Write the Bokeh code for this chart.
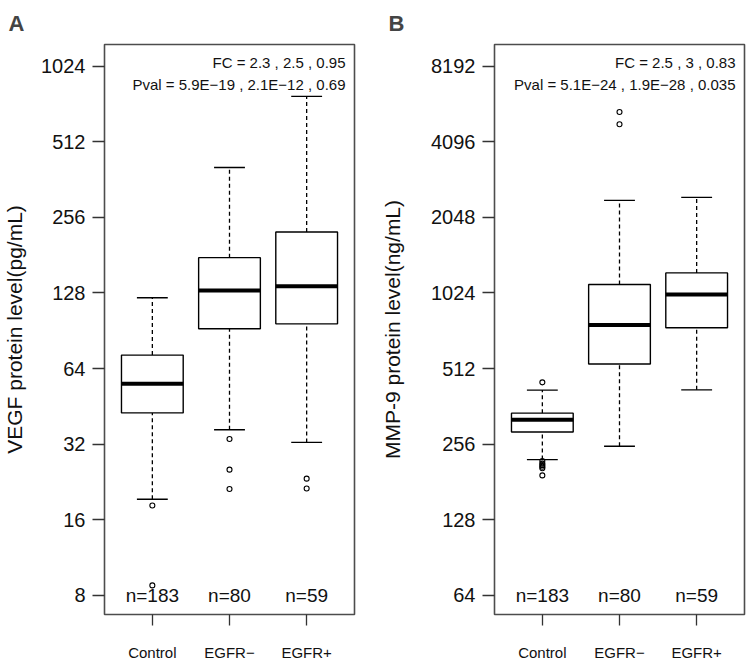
from bokeh.plotting import figure
from bokeh.models import Range1d, FixedTicker, Label, NumeralTickFormatter, ColumnDataSource
from bokeh.layouts import row
from bokeh.core.properties import value
from bokeh.embed import file_html
from bokeh.resources import INLINE

FONT = "Liberation Sans"

categories = ["Control", "EGFR\u2212", "EGFR+"]
counts = [183, 80, 59]

# Panel A: VEGF (pg/mL)
vegf_q1 = [42.6, 92.2, 96.4]
vegf_median = [55.6, 131, 136]
vegf_q3 = [72.4, 177, 224]
vegf_low = [19.3, 36.5, 32.5]
vegf_high = [122.5, 405, 777]
vegf_outliers = [[18.2, 8.75], [33.5, 25.3, 21.2], [23.3, 21.3]]
vegf_ticks = [8, 16, 32, 64, 128, 256, 512, 1024]
vegf_fc = "FC = 2.3 , 2.5 , 0.95"
vegf_pval = "Pval = 5.9E\u221219 , 2.1E\u221212 , 0.69"

# Panel B: MMP-9 (ng/mL)
mmp_q1 = [286, 534, 744]
mmp_median = [320, 764, 1010]
mmp_q3 = [340, 1107, 1231]
mmp_low = [222, 251, 421]
mmp_high = [420, 2394, 2461]
mmp_outliers = [[451, 219, 214, 211, 208, 205, 192], [5387, 4818], []]
mmp_ticks = [64, 128, 256, 512, 1024, 2048, 4096, 8192]
mmp_fc = "FC = 2.5 , 3 , 0.83"
mmp_pval = "Pval = 5.1E\u221224 , 1.9E\u221228 , 0.035"


def panel(letter, ylabel, q1, med, q3, low, high, outliers, ticks, fc, pval,
          yr, width, border_left, border_right, label_standoff, title_x):
    p = figure(width=width, height=663, y_axis_type="log",
               x_range=Range1d(0.38, 3.62), y_range=Range1d(*yr),
               output_backend="svg", toolbar_location=None,
               min_border_left=border_left, min_border_right=border_right,
               min_border_top=42, min_border_bottom=47)
    p.xgrid.visible = False
    p.ygrid.visible = False
    p.outline_line_color = "#4d4d4d"
    p.outline_line_width = 1.6
    p.background_fill_color = "white"

    xs = list(range(1, len(categories) + 1))
    src = ColumnDataSource(dict(
        x=xs, q1=q1, med=med, q3=q3, low=low, high=high,
        left=[x - 0.4 for x in xs], right=[x + 0.4 for x in xs],
        cl=[x - 0.2 for x in xs], cr=[x + 0.2 for x in xs],
    ))
    # whiskers
    p.segment(x0="x", y0="q3", x1="x", y1="high", source=src,
              line_color="black", line_width=1.3, line_dash="4 3")
    p.segment(x0="x", y0="low", x1="x", y1="q1", source=src,
              line_color="black", line_width=1.3, line_dash="4 3")
    # caps
    p.segment(x0="cl", y0="high", x1="cr", y1="high", source=src,
              line_color="black", line_width=1.4)
    p.segment(x0="cl", y0="low", x1="cr", y1="low", source=src,
              line_color="black", line_width=1.4)
    # boxes
    p.vbar(x="x", width=0.8, bottom="q1", top="q3", source=src,
           fill_color="white", line_color="black", line_width=1.4)
    # medians
    p.segment(x0="left", y0="med", x1="right", y1="med", source=src,
              line_color="black", line_width=4)
    # outliers
    ox, oy = [], []
    for x, vals in zip(xs, outliers):
        for v in vals:
            ox.append(x)
            oy.append(v)
    p.scatter(ox, oy, marker="circle", size=5, fill_color=None,
              line_color="black", line_width=1.1)
    # n labels at the lowest tick
    p.text(x=xs, y=[ticks[0]] * len(xs), text=[f"n={c}" for c in counts],
           text_align="center", text_baseline="middle",
           text_font=value(FONT), text_font_size="19px", text_color="#111111")
    # FC / Pval
    for txt, off in ((fc, -18), (pval, -40)):
        p.add_layout(Label(x=3.62, y=yr[1], x_offset=-9, y_offset=off, text=txt,
                           text_align="right", text_baseline="middle",
                           text_font=FONT, text_font_size="15px",
                           text_color="#111111"))

    # axes
    ya = p.yaxis[0]
    ya.ticker = FixedTicker(ticks=ticks, minor_ticks=[])
    ya.formatter = NumeralTickFormatter(format="0")
    ya.axis_line_color = None
    ya.major_tick_in = 0
    ya.major_tick_out = 12
    ya.major_tick_line_color = "#333333"
    ya.major_tick_line_width = 1.3
    ya.minor_tick_line_color = None
    ya.major_label_text_font = FONT
    ya.major_label_text_font_size = "20px"
    ya.major_label_text_color = "#111111"
    ya.major_label_standoff = 7
    ya.axis_label = ylabel
    ya.axis_label_text_font = FONT
    ya.axis_label_text_font_size = "21px"
    ya.axis_label_text_font_style = "normal"
    ya.axis_label_text_color = "#111111"
    ya.axis_label_standoff = label_standoff

    xa = p.xaxis[0]
    xa.ticker = FixedTicker(ticks=xs)
    xa.major_label_overrides = {x: c for x, c in zip(xs, categories)}
    xa.axis_line_color = None
    xa.major_tick_in = 0
    xa.major_tick_out = 11
    xa.major_tick_line_color = "#333333"
    xa.major_tick_line_width = 1.3
    xa.minor_tick_line_color = None
    xa.major_label_text_font = FONT
    xa.major_label_text_font_size = "15px"
    xa.major_label_text_color = "#111111"
    xa.major_label_standoff = 18

    p.title.text = letter
    p.title.text_font = FONT
    p.title.text_font_size = "22px"
    p.title.text_font_style = "bold"
    p.title.align = "left"
    p.title.offset = -(border_left - title_x)
    p.title.standoff = 17
    return p


pA = panel("A", "VEGF protein level(pg/mL)", vegf_q1, vegf_median, vegf_q3,
           vegf_low, vegf_high, vegf_outliers, vegf_ticks, vegf_fc, vegf_pval,
           (2 ** 2.744, 2 ** 10.289), 378, 103, 24, 12, 7)
pB = panel("B", "MMP-9 protein level(ng/mL)", mmp_q1, mmp_median, mmp_q3,
           mmp_low, mmp_high, mmp_outliers, mmp_ticks, mmp_fc, mmp_pval,
           (2 ** 5.744, 2 ** 13.289), 372, 114, 6, 24, 8)

layout = row(pA, pB)
open("out.html", "w").write(file_html(layout, INLINE))
